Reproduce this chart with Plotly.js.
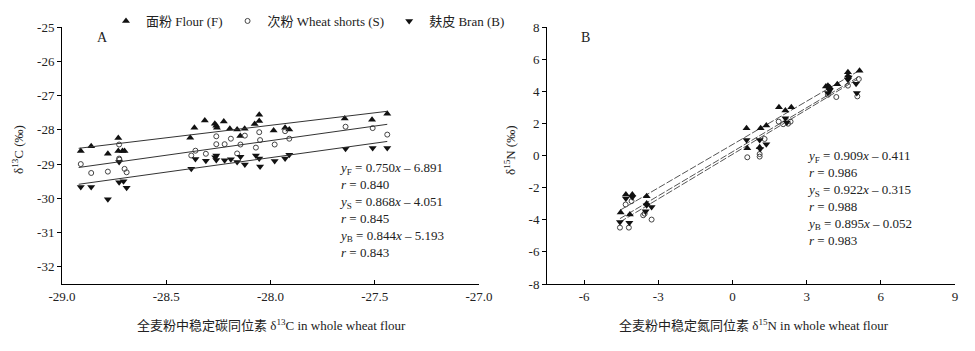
<!DOCTYPE html>
<html><head><meta charset="utf-8">
<script src="https://cdn.plot.ly/plotly-3.0.1.min.js"></script>
<style>html,body{margin:0;padding:0;background:#fff}#chart{width:975px;height:351px}</style>
</head><body><div id="chart"></div>
<script>
// ---------- Data: panel A (delta 13C) ----------
const seriesNames = ['面粉 Flour (F)', '次粉 Wheat shorts (S)', '麸皮 Bran (B)'];

const aFlourX = [-28.91, -28.86, -28.78, -28.73, -28.73, -28.71, -28.70, -28.385, -28.365, -28.315, -28.267, -28.26, -28.257, -28.224, -28.195, -28.16, -28.145, -28.124, -28.076, -28.054, -28.054, -27.985, -27.93, -27.91, -27.644, -27.513, -27.44];
const aFlourY = [-28.62, -28.48, -28.70, -28.24, -28.62, -28.62, -28.62, -28.23, -27.94, -27.73, -27.82, -27.88, -27.94, -27.76, -27.97, -27.99, -28.18, -27.97, -27.83, -27.56, -27.74, -28.02, -27.94, -27.99, -27.67, -27.71, -27.53];

const aShortsX = [-28.91, -28.86, -28.78, -28.726, -28.726, -28.725, -28.70, -28.69, -28.38, -28.36, -28.31, -28.26, -28.26, -28.22, -28.19, -28.16, -28.144, -28.123, -28.07, -28.054, -28.05, -27.98, -27.93, -27.91, -27.64, -27.51, -27.44];
const aShortsY = [-29.00, -29.26, -29.22, -28.43, -28.84, -28.87, -29.14, -29.24, -28.75, -28.61, -28.70, -28.19, -28.42, -28.42, -28.26, -28.69, -28.43, -28.17, -28.52, -28.07, -28.30, -28.43, -28.04, -28.26, -27.91, -27.95, -28.14];

const aBranX = [-28.91, -28.86, -28.78, -28.726, -28.726, -28.705, -28.69, -28.38, -28.36, -28.31, -28.265, -28.26, -28.26, -28.22, -28.19, -28.16, -28.144, -28.123, -28.07, -28.054, -28.05, -27.98, -27.93, -27.91, -27.64, -27.51, -27.44];
const aBranY = [-29.67, -29.67, -30.03, -28.94, -29.53, -29.50, -29.69, -29.14, -28.85, -28.90, -28.80, -28.75, -28.88, -28.89, -28.86, -28.94, -28.79, -29.01, -28.75, -28.84, -29.07, -28.91, -28.84, -28.73, -28.55, -28.53, -28.53];

// fitted lines as drawn in panel A (end points)
const aFitX = [-28.92, -27.44];
const aFitFlourY = [-28.54, -27.46];
const aFitShortsY = [-29.10, -27.84];
const aFitBranY = [-29.59, -28.34];

// ---------- Data: panel B (delta 15N) ----------
const bFlourX = [-4.52, -4.15, -4.31, -4.05, -3.47, -3.47, 0.57, 1.14, 1.37, 0.60, 1.10, 1.88, 2.14, 2.38, 3.78, 3.86, 3.93, 4.24, 4.67, 4.67, 5.14];
const bFlourY = [-3.55, -3.68, -2.43, -2.43, -2.53, -2.99, 1.70, 1.70, 1.86, 0.45, 0.51, 3.01, 2.80, 3.01, 4.30, 4.35, 4.25, 4.44, 5.18, 4.97, 5.28];

const bShortsX = [-4.55, -4.19, -4.32, -4.08, -3.61, -3.55, -3.27, 0.60, 1.10, 1.10, 1.30, 1.87, 2.35, 2.05, 2.25, 3.86, 4.20, 4.67, 5.11, 5.05];
const bShortsY = [-4.49, -4.49, -3.05, -2.84, -3.72, -3.62, -3.99, -0.11, 0.09, -0.07, 1.03, 2.11, 2.11, 1.95, 1.98, 3.78, 3.64, 4.35, 4.76, 3.68];

const bBranX = [-4.55, -4.17, -4.31, -4.05, -3.51, -3.47, -3.27, 0.57, 1.10, 1.37, 1.12, 2.14, 2.20, 3.86, 3.93, 4.67, 5.00, 5.03, 4.70];
const bBranY = [-4.14, -4.18, -2.68, -2.60, -3.47, -3.10, -3.20, 0.97, 0.97, 0.70, 0.40, 2.32, 2.05, 3.89, 4.05, 4.72, 4.47, 3.89, 4.85];

// fitted lines as drawn in panel B (end points)
const bFitX = [-4.55, 5.14];
const bFitFlourY = [-3.41, 5.30];
const bFitShortsY = [-3.93, 4.93];
const bFitBranY = [-4.14, 4.83];

// ---------- Tick labels ----------
const aXTickVals = [-29.0, -28.5, -28.0, -27.5, -27.0];
const aXTickText = ['-29.0', '-28.5', '-28.0', '-27.5', '-27.0'];
const aYTickVals = [-25, -26, -27, -28, -29, -30, -31, -32];
const aYTickText = ['-25', '-26', '-27', '-28', '-29', '-30', '-31', '-32'];
const bXTickVals = [-6, -3, 0, 3, 6, 9];
const bXTickText = ['-6', '-3', '0', '3', '6', '9'];
const bYTickVals = [8, 6, 4, 2, 0, -2, -4, -6, -8];
const bYTickText = ['8', '6', '4', '2', '0', '-2', '-4', '-6', '-8'];

// ---------- Text ----------
const eqA = ['<i>y</i><sub>F</sub> = 0.750<i>x</i> – 6.891', '<i>r</i> = 0.840',
             '<i>y</i><sub>S</sub> = 0.868<i>x</i> – 4.051', '<i>r</i> = 0.845',
             '<i>y</i><sub>B</sub> = 0.844<i>x</i> – 5.193', '<i>r</i> = 0.843'];
const eqB = ['<i>y</i><sub>F</sub> = 0.909<i>x</i> – 0.411', '<i>r</i> = 0.986',
             '<i>y</i><sub>S</sub> = 0.922<i>x</i> – 0.315', '<i>r</i> = 0.988',
             '<i>y</i><sub>B</sub> = 0.895<i>x</i> – 0.052', '<i>r</i> = 0.983'];

// ---------- Styling ----------
const FONT = '"Liberation Serif", "Noto Sans CJK SC", serif';
const W = 975, H = 351;
const px = v => v / W;
const py = v => 1 - v / H;

const mFlour = {symbol: 'triangle-up', size: 7, color: '#111'};
const mShorts = {symbol: 'circle-open', size: 5, color: '#444', line: {width: 1, color: '#444'}};
const mBran = {symbol: 'triangle-down', size: 7, color: '#111'};
const lineA = {color: '#333', width: 1};
const lineB = {color: '#555', width: 1, dash: '7px,2px'};

const traces = [
  {x: aFlourX, y: aFlourY, mode: 'markers', marker: mFlour, name: seriesNames[0], xaxis: 'x', yaxis: 'y'},
  {x: aShortsX, y: aShortsY, mode: 'markers', marker: mShorts, name: seriesNames[1], xaxis: 'x', yaxis: 'y'},
  {x: aBranX, y: aBranY, mode: 'markers', marker: mBran, name: seriesNames[2], xaxis: 'x', yaxis: 'y'},
  {x: aFitX, y: aFitFlourY, mode: 'lines', line: lineA, showlegend: false, xaxis: 'x', yaxis: 'y'},
  {x: aFitX, y: aFitShortsY, mode: 'lines', line: lineA, showlegend: false, xaxis: 'x', yaxis: 'y'},
  {x: aFitX, y: aFitBranY, mode: 'lines', line: lineA, showlegend: false, xaxis: 'x', yaxis: 'y'},
  {x: bFitX, y: bFitFlourY, mode: 'lines', line: lineB, showlegend: false, xaxis: 'x2', yaxis: 'y2'},
  {x: bFitX, y: bFitShortsY, mode: 'lines', line: lineB, showlegend: false, xaxis: 'x2', yaxis: 'y2'},
  {x: bFitX, y: bFitBranY, mode: 'lines', line: lineB, showlegend: false, xaxis: 'x2', yaxis: 'y2'},
  {x: bFlourX, y: bFlourY, mode: 'markers', marker: mFlour, showlegend: false, xaxis: 'x2', yaxis: 'y2'},
  {x: bShortsX, y: bShortsY, mode: 'markers', marker: mShorts, showlegend: false, xaxis: 'x2', yaxis: 'y2'},
  {x: bBranX, y: bBranY, mode: 'markers', marker: mBran, showlegend: false, xaxis: 'x2', yaxis: 'y2'}
];

const axisBase = {
  showgrid: false, zeroline: false, showline: true, linecolor: '#000', linewidth: 1,
  tickcolor: '#000', ticklen: 4, tickwidth: 1, tickmode: 'array',
  tickfont: {family: FONT, size: 13, color: '#222'}, automargin: false, fixedrange: true
};
const yDomain = [1 - 284 / H, 1 - 27 / H];
const txt = {family: FONT, size: 13, color: '#222'};

const layout = {
  width: W, height: H,
  margin: {l: 0, r: 0, t: 0, b: 0, pad: 0},
  paper_bgcolor: '#fff', plot_bgcolor: '#fff',
  font: txt,
  hovermode: false,
  showlegend: true,
  legend: {orientation: 'h', x: px(106), y: py(21), xanchor: 'left', yanchor: 'middle',
           font: txt, itemwidth: 30, tracegroupgap: 0, bgcolor: 'rgba(0,0,0,0)'},
  xaxis: Object.assign({}, axisBase, {domain: [px(62), px(479)], range: [-29, -27], anchor: 'y',
           tickvals: aXTickVals, ticktext: aXTickText, ticks: 'inside'}),
  yaxis: Object.assign({}, axisBase, {domain: yDomain, range: [-32.5, -25], anchor: 'x',
           tickvals: aYTickVals, ticktext: aYTickText, ticks: 'outside'}),
  xaxis2: Object.assign({}, axisBase, {domain: [px(547), px(955)], range: [-7.5, 9], anchor: 'y2',
           tickvals: bXTickVals, ticktext: bXTickText, ticks: 'inside'}),
  yaxis2: Object.assign({}, axisBase, {domain: yDomain, range: [-8, 8], anchor: 'x2',
           tickvals: bYTickVals, ticktext: bYTickText, ticks: 'outside'}),
  annotations: [
    {text: 'A', xref: 'paper', yref: 'paper', x: px(102), y: py(38), xanchor: 'center', yanchor: 'middle',
     showarrow: false, font: {family: FONT, size: 14, color: '#222'}},
    {text: 'B', xref: 'paper', yref: 'paper', x: px(585), y: py(37), xanchor: 'center', yanchor: 'middle',
     showarrow: false, font: {family: FONT, size: 14, color: '#222'}},
    {text: eqA.join('<br>'), xref: 'paper', yref: 'paper', x: px(337), y: py(158), xanchor: 'left', yanchor: 'top',
     align: 'left', showarrow: false, font: txt},
    {text: eqB.join('<br>'), xref: 'paper', yref: 'paper', x: px(805), y: py(146), xanchor: 'left', yanchor: 'top',
     align: 'left', showarrow: false, font: txt},
    {text: 'δ<sup>13</sup>C (‰)', xref: 'paper', yref: 'paper', x: px(18), y: py(150), textangle: -90,
     xanchor: 'center', yanchor: 'middle', showarrow: false, font: txt},
    {text: 'δ<sup>15</sup>N (‰)', xref: 'paper', yref: 'paper', x: px(510), y: py(150), textangle: -90,
     xanchor: 'center', yanchor: 'middle', showarrow: false, font: txt},
    {text: '全麦粉中稳定碳同位素 δ<sup>13</sup>C in whole wheat flour', xref: 'paper', yref: 'paper', x: px(271), y: py(325),
     xanchor: 'center', yanchor: 'middle', showarrow: false, font: txt},
    {text: '全麦粉中稳定氮同位素 δ<sup>15</sup>N in whole wheat flour', xref: 'paper', yref: 'paper', x: px(754), y: py(325),
     xanchor: 'center', yanchor: 'middle', showarrow: false, font: txt}
  ]
};

Plotly.newPlot('chart', traces, layout, {staticPlot: true, displayModeBar: false});
</script>
</body></html>
